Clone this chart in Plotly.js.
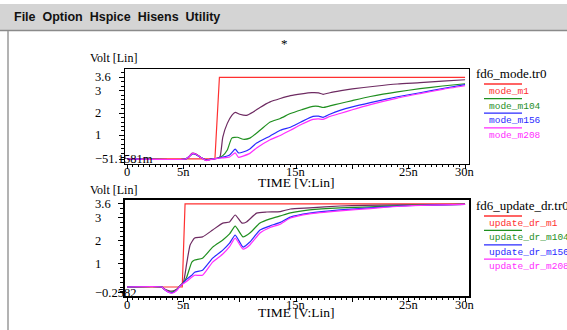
<!DOCTYPE html>
<html>
<head>
<meta charset="utf-8">
<script src="https://cdn.plot.ly/plotly-3.0.1.min.js"></script>
<style>
html,body{margin:0;padding:0;background:#fff;}
#chart{width:567px;height:330px;}
</style>
</head>
<body>
<div id="chart"></div>
<script>
// ---------- DATA ----------
const menuText = "File Option Hspice Hisens Utility";

// Top panel: fd6_mode.tr0 (time in ns, volts)
const topTitle = "fd6_mode.tr0";
const topNames = ["mode_m1", "mode_m104", "mode_m156", "mode_m208"];
const topYTickVals = [-0.0516, 1, 2, 3, 3.6];
const topYTickText = ["\u221251.1581m", "1", "2", "3", "3.6"];

const topM1T = [0, 7.8, 8.2, 30];
const topM1V = [-0.05, -0.05, 3.6, 3.6];

const topM52T = [0, 5.2, 5.5, 5.75, 6.1, 6.5, 7.0, 7.5, 8.0, 8.25, 8.5, 8.9, 9.3, 9.6, 10.0, 10.6, 11.2, 11.8, 12.7, 13.6, 14.5, 15.5, 16.4, 17.0, 17.4, 18.0, 19, 20, 22, 24, 26, 28, 30];
const topM52V = [-0.05, -0.05, 0.05, 0.2, 0.18, 0.04, -0.1, -0.06, -0.02, 0.05, 0.93, 1.54, 1.9, 2.03, 1.95, 1.9, 2.05, 2.25, 2.5, 2.65, 2.78, 2.86, 2.91, 2.9, 2.84, 2.91, 3.0, 3.08, 3.2, 3.3, 3.36, 3.43, 3.49];

const topM104T = [0, 5.2, 5.5, 5.8, 6.1, 6.5, 7.0, 7.5, 8.0, 8.5, 8.9, 9.3, 9.8, 10.3, 10.9, 11.8, 12.7, 13.6, 14.5, 15.5, 16.5, 17.0, 17.4, 18.0, 18.9, 20, 21.6, 24, 26, 28, 30];
const topM104V = [-0.05, -0.05, 0.05, 0.18, 0.15, 0.03, -0.1, -0.06, -0.02, 0.1, 0.35, 0.88, 0.92, 0.83, 0.88, 1.23, 1.6, 1.76, 1.98, 2.15, 2.3, 2.3, 2.25, 2.32, 2.43, 2.56, 2.74, 2.95, 3.09, 3.21, 3.31];

const topM156T = [0, 5.2, 5.5, 5.8, 6.1, 6.5, 7.0, 7.5, 8.0, 8.5, 9.1, 9.6, 9.9, 10.3, 10.9, 11.5, 12.7, 13.6, 14.5, 15.5, 16.5, 17.0, 17.4, 18.0, 18.9, 20, 21.6, 24, 26, 28, 30];
const topM156V = [-0.05, -0.05, 0.05, 0.18, 0.15, 0.03, -0.1, -0.06, -0.02, 0.03, 0.13, 0.39, 0.22, 0.26, 0.4, 0.66, 0.98, 1.23, 1.37, 1.62, 1.85, 1.86, 1.81, 1.95, 2.12, 2.28, 2.47, 2.73, 2.91, 3.1, 3.27];

const topM208T = [0, 5.2, 5.5, 5.8, 6.1, 6.5, 7.0, 7.5, 8.0, 8.5, 9.1, 9.6, 9.9, 10.3, 10.9, 11.5, 12.7, 13.6, 14.5, 15.5, 16.5, 17.0, 17.4, 18.0, 18.9, 20, 21.6, 24, 26, 28, 30];
const topM208V = [-0.05, -0.05, 0.05, 0.2, 0.17, 0.03, -0.12, -0.07, -0.02, 0.0, 0.04, 0.22, 0.02, 0.08, 0.2, 0.44, 0.81, 1.0, 1.23, 1.5, 1.72, 1.74, 1.72, 1.85, 1.98, 2.15, 2.38, 2.67, 2.87, 3.06, 3.22];

// Bottom panel: fd6_update_dr.tr0
const botTitle = "fd6_update_dr.tr0";
const botNames = ["update_dr_m1", "update_dr_m104", "update_dr_m156", "update_dr_m208"];
const botYTickVals = [-0.2582, 1, 2, 3, 3.6];
const botYTickText = ["\u22120.2582", "1", "2", "3", "3.6"];

const botM1T = [0, 4.9, 5.15, 30];
const botM1V = [0, 0, 3.6, 3.6];

const botM52T = [0, 3.1, 3.3, 3.6, 4.0, 4.4, 4.7, 5.0, 5.3, 5.6, 6.0, 6.7, 7.6, 8.5, 9.1, 9.6, 10.2, 10.6, 11.5, 12.4, 13.6, 14.5, 16.2, 18.9, 21, 24.2, 27, 30];
const botM52V = [0, 0, -0.08, -0.14, -0.18, -0.1, 0.05, 0.2, 1.03, 1.82, 2.12, 2.17, 2.47, 2.77, 2.82, 3.12, 2.77, 2.82, 3.2, 3.25, 3.27, 3.38, 3.43, 3.51, 3.54, 3.56, 3.57, 3.58];

const botT = [0, 3.1, 3.3, 3.6, 4.0, 4.4, 4.7, 5.0, 5.3, 5.75, 6.0, 6.7, 7.6, 8.5, 9.1, 9.6, 10.3, 10.9, 11.8, 12.7, 13.6, 14.5, 16.2, 18.9, 21.6, 24.2, 27, 30];
const botM104V = [0, 0, -0.1, -0.18, -0.22, -0.12, 0.05, 0.18, 0.43, 1.08, 1.17, 1.25, 1.73, 2.04, 2.3, 2.64, 2.17, 2.34, 2.77, 2.95, 3.08, 3.21, 3.34, 3.43, 3.47, 3.53, 3.56, 3.58];
const botM156V = [0, 0, -0.1, -0.2, -0.25, -0.14, 0.04, 0.17, 0.34, 0.51, 0.64, 0.73, 1.25, 1.6, 1.9, 2.25, 1.73, 1.95, 2.47, 2.65, 2.8, 3.03, 3.2, 3.34, 3.43, 3.51, 3.55, 3.58];
const botM208V = [0, 0, -0.1, -0.2, -0.27, -0.15, 0.03, 0.15, 0.25, 0.43, 0.51, 0.51, 1.08, 1.43, 1.75, 2.12, 1.64, 1.82, 2.34, 2.58, 2.72, 2.99, 3.17, 3.3, 3.4, 3.5, 3.55, 3.58];

const xTickVals = [0, 5, 15, 25, 30];
const xTickText = ["0", "5n", "15n", "25n", "30n"];
const yAxisLabel = "Volt [Lin]";
const xAxisLabel = "TIME [V:Lin]";

// ---------- STYLE ----------
const W = 567, H = 330;
const px = v => v / W;
const py = v => 1 - v / H;
const cRed = "#ff3030", cGreen = "#1f8f1f", cBlue = "#2a2aff", cMag = "#ff2cff", cPur = "#6e2b62";
const legendColors = [cRed, cGreen, cBlue, cMag];
const serif = "Liberation Serif, Times New Roman, serif";
const mono = "Liberation Mono, DejaVu Sans Mono, monospace";

function tr(x, y, color, xa, ya, name, spline) {
  return {x: x, y: y, type: "scatter", mode: "lines", name: name, xaxis: xa, yaxis: ya,
    line: {color: color, width: 1.2, shape: spline ? "spline" : "linear", smoothing: 0.5},
    hoverinfo: "skip", showlegend: false};
}

const traces = [
  tr(topM1T, topM1V, cRed, "x", "y", topNames[0], false),
  tr(topM52T, topM52V, cPur, "x", "y", "mode_m52", true),
  tr(topM104T, topM104V, cGreen, "x", "y", topNames[1], true),
  tr(topM156T, topM156V, cBlue, "x", "y", topNames[2], true),
  tr(topM208T, topM208V, cMag, "x", "y", topNames[3], true),
  tr(botM1T, botM1V, cRed, "x2", "y2", botNames[0], false),
  tr(botM52T, botM52V, cPur, "x2", "y2", "update_dr_m52", true),
  tr(botT, botM104V, cGreen, "x2", "y2", botNames[1], true),
  tr(botT, botM156V, cBlue, "x2", "y2", botNames[2], true),
  tr(botT, botM208V, cMag, "x2", "y2", botNames[3], true)
];

function xax(anchor, lw) {
  return {domain: [px(125), px(469)], range: [-0.18, 30.35], anchor: anchor,
    showline: true, mirror: true, linecolor: "#000", linewidth: lw,
    showgrid: false, zeroline: false, showticklabels: false,
    tickmode: "array", tickvals: [0, 5, 10, 15, 20, 25, 30], ticks: "outside", ticklen: 4, tickcolor: "#000", tickwidth: 1,
    minor: {tickmode: "linear", tick0: 0, dtick: 0.5, ticks: "outside", ticklen: 2, tickcolor: "#000", showgrid: false},
    fixedrange: true};
}
function yax(anchor, dom, rng, vals, lw) {
  return {domain: dom, range: rng, anchor: anchor,
    showline: true, mirror: true, linecolor: "#000", linewidth: lw,
    showgrid: false, zeroline: false, showticklabels: false,
    tickmode: "array", tickvals: vals, ticks: "outside", ticklen: 5, tickcolor: "#000", tickwidth: 1,
    minor: {tickmode: "linear", tick0: 0, dtick: 0.2, ticks: "outside", ticklen: 3, tickcolor: "#000", showgrid: false},
    fixedrange: true};
}

const annotations = [];
const shapes = [];

// menu bar
shapes.push({type: "rect", xref: "paper", yref: "paper", x0: 0, x1: 1, y0: py(30), y1: py(4), fillcolor: "#d4d4d4", line: {width: 0}, layer: "below"});
shapes.push({type: "line", xref: "paper", yref: "paper", x0: 0, x1: 1, y0: py(30.5), y1: py(30.5), line: {color: "#8a8a8a", width: 1.5}});
shapes.push({type: "line", xref: "paper", yref: "paper", x0: px(8), x1: px(8), y0: py(31), y1: 0, line: {color: "#9a9a9a", width: 1.5}});
annotations.push({text: "<b>" + menuText.replace(/ /g, "&nbsp;&nbsp;") + "</b>", xref: "paper", yref: "paper", x: px(12), y: py(17), xanchor: "left", yanchor: "middle", showarrow: false,
  font: {family: "Liberation Sans, Arial, sans-serif", size: 12.5, color: "#111"}});
annotations.push({text: "*", xref: "paper", yref: "paper", x: px(284), y: py(43), xanchor: "center", yanchor: "middle", showarrow: false,
  font: {family: serif, size: 13, color: "#000"}});

function panel(xa, ya, yTop, xLabelY, timeY, yVals, yText, title, names, legTop, legStep, legTitleY) {
  annotations.push({text: yAxisLabel, xref: "paper", yref: "paper", x: px(88), y: py(yTop), xanchor: "left", yanchor: "middle", showarrow: false,
    font: {family: serif, size: 12, color: "#000"}});
  yVals.forEach((v, i) => annotations.push({text: yText[i], xref: "paper", yref: ya, x: px(93), y: v, xanchor: "left", yanchor: "middle", showarrow: false,
    font: {family: serif, size: 12.5, color: "#000"}}));
  xTickVals.forEach((v, i) => annotations.push({text: xTickText[i], xref: xa, yref: "paper", x: v, y: py(xLabelY), xanchor: "center", yanchor: "middle", showarrow: false,
    font: {family: serif, size: 12.5, color: "#000"}}));
  annotations.push({text: xAxisLabel, xref: "paper", yref: "paper", x: px(296), y: py(timeY), xanchor: "center", yanchor: "middle", showarrow: false,
    font: {family: serif, size: 13.5, color: "#000"}});
  annotations.push({text: title, xref: "paper", yref: "paper", x: px(474), y: py(legTitleY), xanchor: "left", yanchor: "middle", showarrow: false,
    font: {family: serif, size: 13, color: "#000"}});
  names.forEach((n, i) => {
    const ly = legTop + legStep * i;
    shapes.push({type: "line", xref: "paper", yref: "paper", x0: px(484), x1: px(522), y0: py(ly), y1: py(ly),
      line: {color: legendColors[i], width: 1.3}});
    annotations.push({text: n, xref: "paper", yref: "paper", x: px(487), y: py(ly + 7.5), xanchor: "left", yanchor: "middle", showarrow: false,
      font: {family: mono, size: 9.5, color: legendColors[i]}});
  });
}

panel("x", "y", 58, 172, 182, topYTickVals, topYTickText, topTitle, topNames, 84, 14.6, 73);
panel("x2", "y2", 190, 305, 312, botYTickVals, botYTickText, botTitle, botNames, 216, 14.4, 205);

const layout = {
  width: W, height: H,
  margin: {l: 0, r: 0, t: 0, b: 0, pad: 0},
  paper_bgcolor: "#fff", plot_bgcolor: "rgba(0,0,0,0)",
  showlegend: false,
  xaxis: xax("y", 1),
  yaxis: yax("x", [py(164), py(69)], [-0.275, 3.97], topYTickVals, 1),
  xaxis2: xax("y2", 2),
  yaxis2: yax("x2", [py(296), py(200)], [-0.39, 3.77], botYTickVals, 2),
  annotations: annotations,
  shapes: shapes
};

Plotly.newPlot("chart", traces, layout, {staticPlot: true, displayModeBar: false});
</script>
</body>
</html>
